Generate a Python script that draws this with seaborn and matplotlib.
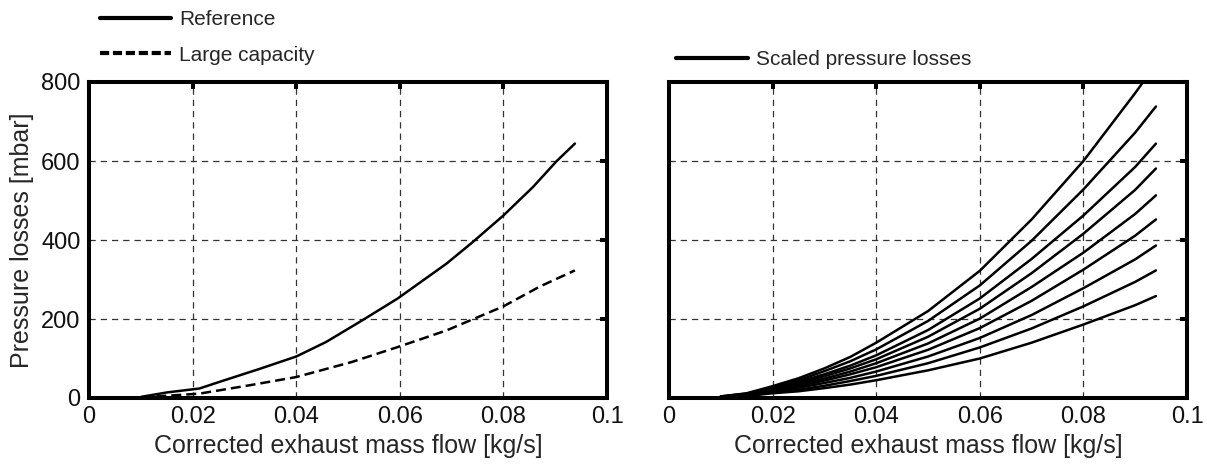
import numpy as np
import pandas as pd
import matplotlib
matplotlib.use("Agg")
import matplotlib.pyplot as plt
from matplotlib.lines import Line2D
import seaborn as sns

# ---------------- data ----------------
ref_x = [0.0101, 0.0150, 0.0213, 0.0250, 0.0330, 0.0400, 0.0458, 0.0528,
         0.0596, 0.0690, 0.0741, 0.0800, 0.0857, 0.0903, 0.0938]
ref_y = [3, 14, 24, 40, 74, 105, 142, 197, 252, 340, 395, 462, 534, 600, 644]

large_x = [0.0130, 0.0213, 0.0309, 0.0400, 0.0507, 0.0596, 0.0690, 0.0800,
           0.0870, 0.0938]
large_y = [4, 11, 32, 53, 91, 129, 171, 232, 282, 323]

scaled_x = [0.0100, 0.0150, 0.0200, 0.0250, 0.0300, 0.0350, 0.0400, 0.0500,
            0.0600, 0.0700, 0.0800, 0.0900, 0.0940]
scaled_1 = [4, 12, 30, 50, 75, 104, 140, 220, 322, 452, 600, 772, 845]
scaled_2 = [4, 11, 27, 45, 68, 93, 123, 195, 285, 398, 528, 672, 738]
scaled_3 = [3, 10, 25, 41, 60, 82, 108, 172, 252, 352, 462, 585, 644]
scaled_4 = [3, 9, 23, 37, 55, 75, 98, 155, 226, 316, 416, 527, 581]
scaled_5 = [3, 8, 21, 34, 49, 67, 88, 138, 201, 281, 368, 466, 513]
scaled_6 = [3, 8, 19, 30, 44, 60, 78, 122, 177, 246, 325, 411, 452]
scaled_7 = [2, 7, 17, 26, 38, 51, 67, 105, 152, 210, 278, 351, 386]
scaled_8 = [2, 6, 14, 21, 31, 43, 56, 88, 128, 176, 232, 294, 323]
scaled_9 = [2, 5, 12, 17, 25, 34, 45, 70, 100, 140, 186, 235, 258]
scaled_all = [scaled_1, scaled_2, scaled_3, scaled_4, scaled_5,
              scaled_6, scaled_7, scaled_8, scaled_9]

x_ticks = [0, 0.02, 0.04, 0.06, 0.08, 0.1]
x_ticklabels = ["0", "0.02", "0.04", "0.06", "0.08", "0.1"]
y_ticks = [0, 200, 400, 600, 800]

# ---------------- style ----------------
sns.set_style("white")
plt.rcParams["font.family"] = ["Liberation Sans", "DejaVu Sans"]

W, H = 1207, 466
fig = plt.figure(figsize=(W / 100, H / 100), dpi=100)

def px_axes(x0, x1, y0, y1):
    return fig.add_axes([x0 / W, 1 - y1 / H, (x1 - x0) / W, (y1 - y0) / H])

ax1 = px_axes(89, 607, 82, 398)
ax2 = px_axes(669, 1187, 82, 398)

LW = 1.8

# left panel
df_ref = pd.DataFrame({"x": ref_x, "y": ref_y})
df_large = pd.DataFrame({"x": large_x, "y": large_y})
sns.lineplot(data=df_ref, x="x", y="y", ax=ax1, color="black", lw=LW,
             label="Reference", sort=False)
sns.lineplot(data=df_large, x="x", y="y", ax=ax1, color="black", lw=LW,
             label="Large capacity", sort=False)
ax1.lines[1].set_dashes((4, 2))

# right panel
rows = []
for i, s in enumerate(scaled_all):
    for xv, yv in zip(scaled_x, s):
        rows.append({"x": xv, "y": yv, "curve": i})
df_scaled = pd.DataFrame(rows)
sns.lineplot(data=df_scaled, x="x", y="y", units="curve", estimator=None,
             ax=ax2, color="black", lw=LW, sort=False, legend=False)

for ax in (ax1, ax2):
    ax.set_xlim(0, 0.1)
    ax.set_ylim(0, 800)
    ax.set_xticks(x_ticks)
    ax.set_xticklabels(x_ticklabels)
    ax.set_yticks(y_ticks)
    ax.grid(True, color="#333333", linestyle=(0, (5, 4)), linewidth=0.9)
    for sp in ax.spines.values():
        sp.set_visible(True)
        sp.set_color("black")
        sp.set_linewidth(2.9)
    ax.tick_params(direction="in", length=5, width=2.9, top=True, right=True,
                   labelsize=17, colors="black", labelcolor="#111111", pad=6)
    ax.set_xlabel("Corrected exhaust mass flow [kg/s]", fontsize=18, labelpad=4)
    ax.set_ylabel("")

ax1.set_ylabel("Pressure losses [mbar]", fontsize=18, labelpad=5)
ax2.set_yticklabels([])

# legends
leg1 = ax1.legend(loc="upper left", bbox_to_anchor=(100 / W, 1 - 10 / H),
                  bbox_transform=fig.transFigure, frameon=False, fontsize=15,
                  handlelength=3.4, handletextpad=0.4, labelspacing=0.8,
                  borderpad=0, borderaxespad=0)
for h in leg1.get_lines():
    h.set_linewidth(3.0)
leg1.get_lines()[1].set_dashes((2.2, 0.9))

h2 = Line2D([], [], color="black", lw=3.0)
ax2.legend([h2], ["Scaled pressure losses"], loc="upper left",
           bbox_to_anchor=(676 / W, 1 - 50 / H), bbox_transform=fig.transFigure,
           frameon=False, fontsize=15, handlelength=3.45, handletextpad=0.4,
           borderpad=0, borderaxespad=0)

fig.savefig("out.png", dpi=100, facecolor="white")
